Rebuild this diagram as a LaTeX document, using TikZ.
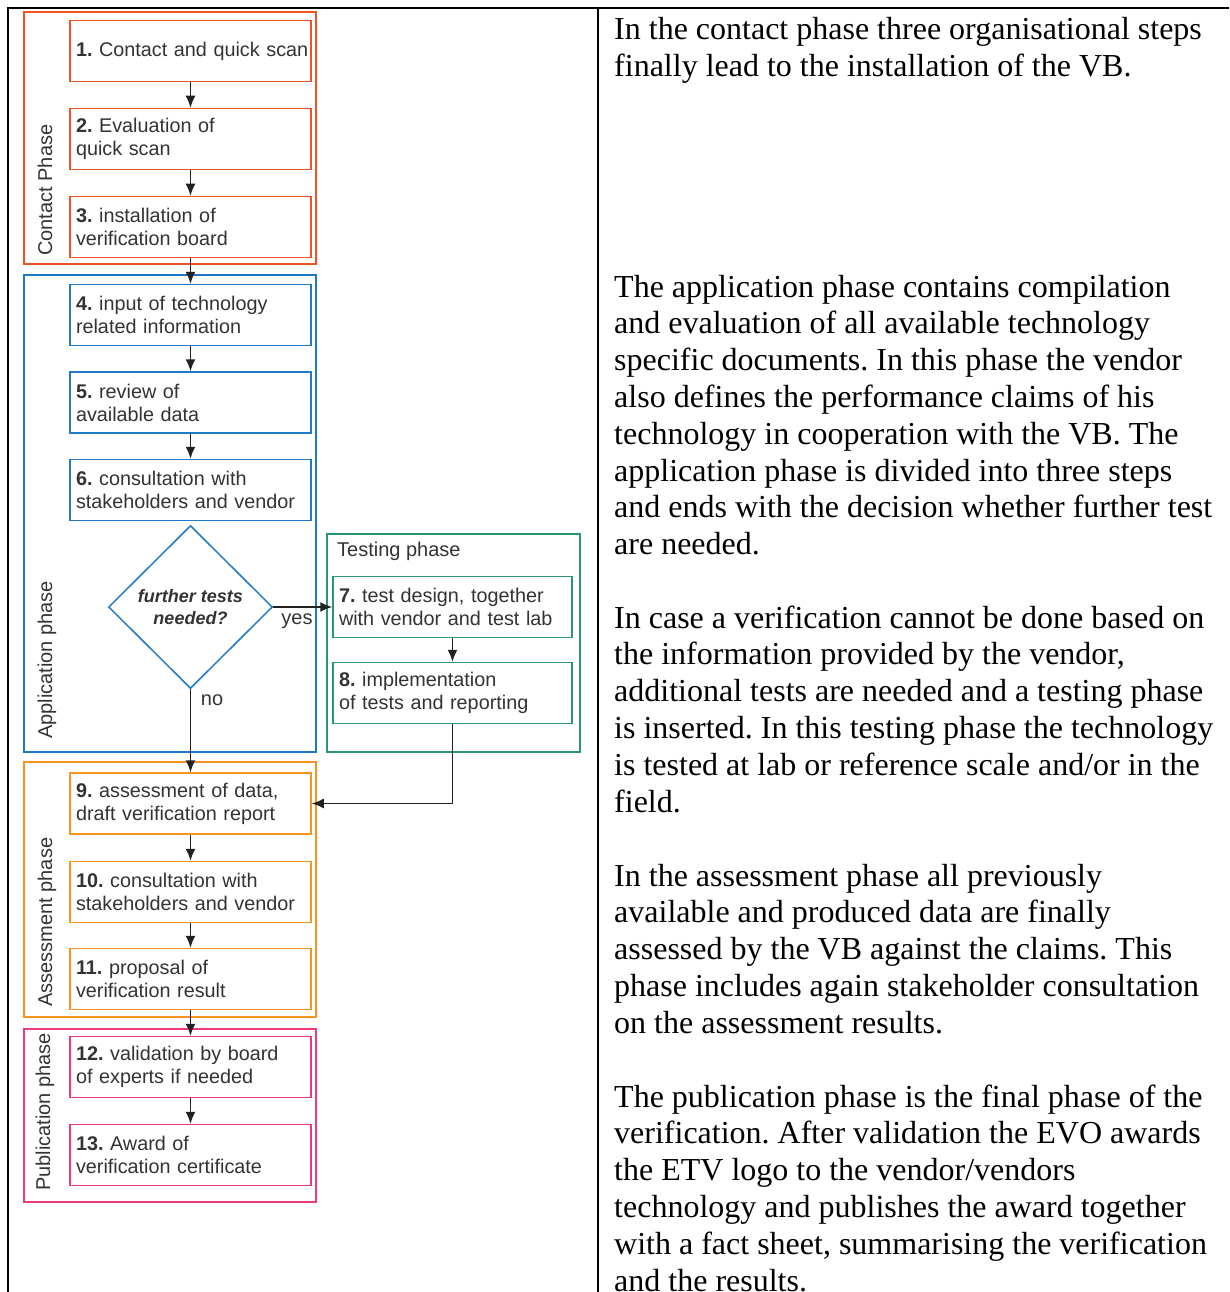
\documentclass[tikz,border=0pt]{standalone}
\usepackage{fontspec}
\setmainfont{Liberation Serif}
\newfontfamily\diagfont{Liberation Sans}
\usetikzlibrary{shapes.geometric,arrows.meta}
\definecolor{ccontact}{RGB}{239,83,35}
\definecolor{capp}{RGB}{30,122,200}
\definecolor{ctest}{RGB}{40,150,115}
\definecolor{cassess}{RGB}{247,147,30}
\definecolor{cpub}{RGB}{236,60,115}
\definecolor{ctext}{RGB}{51,51,51}
\definecolor{carrow}{RGB}{34,34,34}
\tikzset{
  frame/.style={draw, line width=1.5pt, inner sep=0pt},
  stepbox/.style={draw, line width=1.5pt, fill=white, text width=229pt, inner xsep=6pt, inner ysep=0pt,
    minimum height=61pt, align=left, text=ctext, font=\diagfont\fontsize{19.8}{23}\selectfont},
  flow/.style={draw=carrow, line width=1.6pt, -{Latex[length=12pt,width=10pt]}},
  phaselabel/.style={rotate=90, anchor=base west, inner sep=0pt, text=ctext, font=\diagfont\fontsize{20}{23}\selectfont},
  small/.style={text=ctext, font=\diagfont\fontsize{20}{23}\selectfont, inner sep=0pt},
  para/.style={anchor=base west, inner sep=0pt, font=\fontsize{32}{36.8}\selectfont},
  tableline/.style={line width=2.5pt, black}
}
\begin{document}
\frenchspacing
\begin{tikzpicture}[x=1pt,y=-1pt]
\useasboundingbox (0,0) rectangle (1229,1292);
% table lines
\coordinate (tl) at (8,8);
\coordinate (tr) at (1229,8);
\coordinate (bl) at (8,1294);
\coordinate (mt) at (598,8);
\coordinate (mb) at (598,1294);
\draw[tableline] (bl) -- (tl) -- (tr);
\draw[tableline] (mt) -- (mb);

% phase frames
\node[frame, draw=ccontact, minimum width=292pt, minimum height=252pt] (fcontact) at (170,138) {};
\node[frame, draw=capp, minimum width=292pt, minimum height=477pt] (fapp) at (170,513.5) {};
\node[frame, draw=ctest, minimum width=253pt, minimum height=218pt] (ftest) at (453.5,643) {};
\node[frame, draw=cassess, minimum width=292pt, minimum height=255pt] (fassess) at (170,889.5) {};
\node[frame, draw=cpub, minimum width=292pt, minimum height=173pt] (fpub) at (170,1115.5) {};

% phase labels
\node[phaselabel] (lcontact) at (52,256) {Contact Phase};
\node[phaselabel] (lapp) at (52,739) {Application phase};
\node[phaselabel] (lassess) at (52,1007) {Assessment phase};
\node[phaselabel] (lpub) at (50,1191) {Publication phase};
\node[small, anchor=west] (ltest) at (337,551) {Testing phase};

% steps
\node[stepbox, draw=ccontact] (b1) at (190.5,51) {\mbox{\textbf{1.} Contact and quick scan}};
\node[stepbox, draw=ccontact] (b2) at (190.5,139) {\textbf{2.} Evaluation of\\quick scan};
\node[stepbox, draw=ccontact] (b3) at (190.5,227) {\textbf{3.} installation of\\verification board};
\node[stepbox, draw=capp] (b4) at (190.5,315) {\textbf{4.} input of technology\\related information};
\node[stepbox, draw=capp] (b5) at (190.5,402.5) {\textbf{5.} review of\\available data};
\node[stepbox, draw=capp] (b6) at (190.5,490) {\textbf{6.} consultation with\\stakeholders and vendor};
\node[draw=capp, line width=1.5pt, diamond, aspect=1, minimum width=164pt, minimum height=163pt, inner sep=0pt,
  align=center, text=ctext, font=\diagfont\bfseries\itshape\fontsize{18}{22}\selectfont] (dia) at (190.5,607)
  {further tests\\needed?};
\node[stepbox, draw=ctest, text width=227pt] (b7) at (452.5,607) {\textbf{7.} test design, together\\with vendor and test lab};
\node[stepbox, draw=ctest, text width=227pt] (b8) at (452.5,693) {\textbf{8.} implementation\\of tests and reporting};
\node[stepbox, draw=cassess] (b9) at (190.5,803.5) {\textbf{9.} assessment of data,\\draft verification report};
\node[stepbox, draw=cassess] (b10) at (190.5,892) {\textbf{10.} consultation with\\stakeholders and vendor};
\node[stepbox, draw=cassess] (b11) at (190.5,979) {\textbf{11.} proposal of\\verification result};
\node[stepbox, draw=cpub] (b12) at (190.5,1067) {\textbf{12.} validation by board\\of experts if needed};
\node[stepbox, draw=cpub] (b13) at (190.5,1155) {\textbf{13.} Award of\\verification certificate};

% connectors
\draw[flow] (b1) -- (b2);
\draw[flow] (b2) -- (b3);
\draw[flow] (b3) -- (b4);
\draw[flow] (b4) -- (b5);
\draw[flow] (b5) -- (b6);
\draw[flow] (dia.east) -- (b7.west);
\draw[flow] (b7) -- (b8);
\draw[flow] (b8.south) |- (b9.east);
\draw[flow] (dia.south) -- (b9.north);
\draw[flow] (b9) -- (b10);
\draw[flow] (b10) -- (b11);
\draw[flow] (b11) -- (b12);
\draw[flow] (b12) -- (b13);
\node[small] (lyes) at (297,621) {yes};
\node[small] (lno) at (212,700) {no};

% right column text
\foreach \t [count=\k] in {In the contact phase three organisational steps, finally lead to the installation of the VB.}
  \node[para, name=pa\k] at (614,{40+(\k-1)*36.8}) {\t};
\foreach \t [count=\k] in {The application phase contains compilation, and evaluation of all available technology,
  specific documents. In this phase the vendor, also defines the performance claims of his,
  technology in cooperation with the VB. The, application phase is divided into three steps,
  and ends with the decision whether further test, are needed.}
  \node[para, name=pb\k] at (614,{297+(\k-1)*36.8}) {\t};
\foreach \t [count=\k] in {In case a verification cannot be done based on, {the information provided by the vendor,},
  additional tests are needed and a testing phase, is inserted. In this testing phase the technology,
  is tested at lab or reference scale and/or in the, field.}
  \node[para, name=pc\k] at (614,{628+(\k-1)*36.8}) {\t};
\foreach \t [count=\k] in {In the assessment phase all previously, available and produced data are finally,
  assessed by the VB against the claims. This, phase includes again stakeholder consultation,
  on the assessment results.}
  \node[para, name=pd\k] at (614,{886+(\k-1)*36.8}) {\t};
\foreach \t [count=\k] in {The publication phase is the final phase of the, verification. After validation the EVO awards,
  the ETV logo to the vendor/vendors, technology and publishes the award together,
  {with a fact sheet, summarising the verification}, and the results.}
  \node[para, name=pe\k] at (614,{1107+(\k-1)*36.8}) {\t};
\end{tikzpicture}
\end{document}
